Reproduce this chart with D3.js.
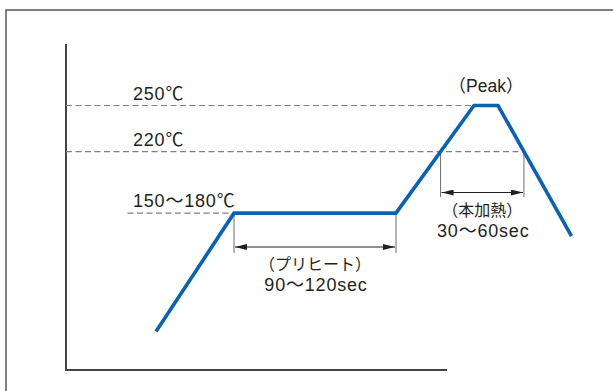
<!DOCTYPE html>
<meta charset="utf-8">
<style>
body { margin: 0; background: #fff; }
text { font-family: "Liberation Sans", "Noto Sans CJK JP", sans-serif; font-size: 18px; fill: #231f20; letter-spacing: 0.8px; }
text.jp { font-size: 16px; letter-spacing: 0; }
.guide { stroke: #808080; stroke-width: 1.2; stroke-dasharray: 6 3.5; fill: none; }
.ext { stroke: #6d6d6d; stroke-width: 1; }
.dim { stroke: #231f20; stroke-width: 1.2; }
.profile { fill: none; stroke: #0a62b4; stroke-width: 3.6; stroke-linejoin: miter; }
.frame { stroke: #555; stroke-width: 1.5; fill: none; }
.axis { stroke: #444; stroke-width: 2; }
</style>
<svg width="613" height="391"></svg>
<script src="https://d3js.org/d3.v7.min.js"></script>
<script>
// reflow profile: time (sec, schematic) and temperature (deg C)
var times = [60, 112, 220, 272, 288, 337];
var temps = [103, 180, 180, 250, 250, 165];

// dashed reference levels
var levels = [250, 220, 180];
var levelLabels = ["250\u2103", "220\u2103", "150\uff5e180\u2103"];

var svg = d3.select("svg");

var x = d3.scaleLinear().domain([0, 254]).range([66, 447]);
var y = d3.scaleLinear().domain([78, 290]).range([370, 44]);

var pts = times.map(function(t, i) { return [t, temps[i]]; });

// outer frame (only top and left visible)
svg.append("path").attr("class", "frame")
    .attr("d", "M6,391V10H613");

// axes
svg.append("line").attr("class", "axis")
    .attr("x1", x(0)).attr("x2", x(0)).attr("y1", y(290)).attr("y2", y(78) + 1);
svg.append("line").attr("class", "axis")
    .attr("x1", x(0) - 1).attr("x2", x(254)).attr("y1", y(78)).attr("y2", y(78));

// where the profile crosses a temperature on the way up / down
function crossUp(T) {
  var a = pts[2], b = pts[3];
  return a[0] + (T - a[1]) * (b[0] - a[0]) / (b[1] - a[1]);
}
function crossDown(T) {
  var a = pts[4], b = pts[5];
  return a[0] + (T - a[1]) * (b[0] - a[0]) / (b[1] - a[1]);
}

// dashed guide lines
svg.append("line").attr("class", "guide")
    .attr("x1", x(0)).attr("x2", x(times[3])).attr("y1", y(250)).attr("y2", y(250));
svg.append("line").attr("class", "guide")
    .attr("x1", x(0)).attr("x2", x(crossDown(220))).attr("y1", y(220)).attr("y2", y(220));
svg.append("line").attr("class", "guide")
    .attr("x1", x(41)).attr("x2", x(times[1])).attr("y1", y(180)).attr("y2", y(180));

// level labels
svg.selectAll("text.lvl")
    .data(levels)
  .enter().append("text")
    .attr("class", "lvl")
    .attr("x", 133)
    .attr("y", function(d) { return y(d) - 6; })
    .text(function(d, i) { return levelLabels[i]; });

// arrow marker
var defs = svg.append("defs");
defs.append("marker").attr("id", "arr")
    .attr("viewBox", "0 0 12 6").attr("refX", 12).attr("refY", 3)
    .attr("markerWidth", 12).attr("markerHeight", 6).attr("markerUnits", "userSpaceOnUse")
    .attr("orient", "auto-start-reverse")
  .append("path").attr("d", "M0,0L12,3L0,6Z").attr("fill", "#231f20");

function dimension(t0, t1, top0, top1, yy, bottom, label1, label2) {
  var x0 = x(t0), x1 = x(t1);
  svg.append("line").attr("class", "ext").attr("x1", x0).attr("x2", x0).attr("y1", top0).attr("y2", bottom);
  svg.append("line").attr("class", "ext").attr("x1", x1).attr("x2", x1).attr("y1", top1).attr("y2", bottom);
  svg.append("line").attr("class", "dim")
      .attr("x1", x0 + 1).attr("x2", x1 - 1).attr("y1", yy).attr("y2", yy)
      .attr("marker-start", "url(#arr)").attr("marker-end", "url(#arr)");
  var cx = (x0 + x1) / 2;
  svg.append("text").attr("class", "jp").attr("x", cx).attr("y", yy + 23).attr("text-anchor", "middle").text(label1);
  svg.append("text").attr("x", cx + 1).attr("y", yy + 44).attr("text-anchor", "middle").text(label2);
}

dimension(times[1], times[2], y(180), y(180), 247, 253, "\uff08\u30d7\u30ea\u30d2\u30fc\u30c8\uff09", "90\uff5e120sec");
dimension(crossUp(220), crossDown(220), y(220), y(220), 192.5, 197, "\uff08\u672c\u52a0\u71b1\uff09", "30\uff5e60sec");

// peak label
svg.append("text").attr("class", "jp").attr("x", x((times[3] + times[4]) / 2))
    .attr("y", 92).attr("text-anchor", "middle").style("font-size", "17.5px").text("\uff08Peak\uff09");

// profile line
svg.append("path").attr("class", "profile")
    .attr("d", d3.line().x(function(d) { return x(d[0]); }).y(function(d) { return y(d[1]); })(pts));
</script>
